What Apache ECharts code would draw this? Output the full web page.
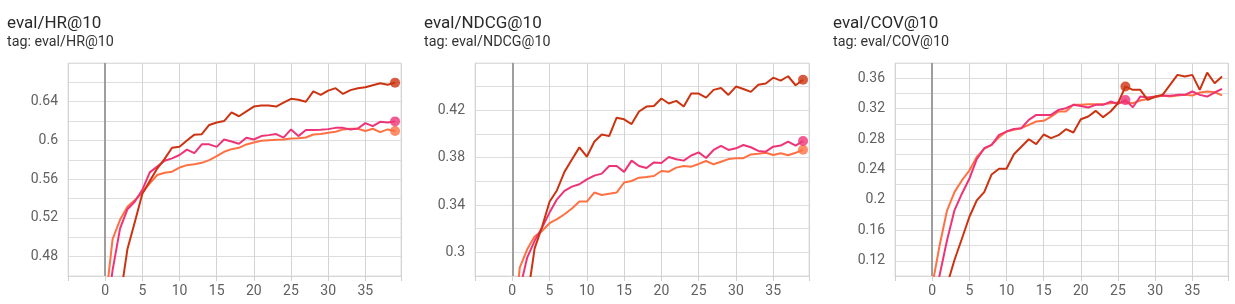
<!DOCTYPE html>
<html><head><meta charset="utf-8">
<script src="https://cdn.jsdelivr.net/npm/echarts@6/dist/echarts.min.js"></script>
<style>html,body{margin:0;padding:0;background:#fff}#c{width:1235px;height:304px}</style>
</head><body><div id="c"></div>
<script>
const steps = [0,1,2,3,4,5,6,7,8,9,10,11,12,13,14,15,16,17,18,19,20,21,22,23,24,25,26,27,28,29,30,31,32,33,34,35,36,37,38,39];

const hrRed = [0.30,0.38,0.436,0.488,0.516,0.545,0.558,0.571,0.581,0.5925,0.5935,0.600,0.606,0.6065,0.616,0.6185,0.620,0.629,0.625,0.630,0.635,0.636,0.636,0.635,0.639,0.643,0.642,0.640,0.6507,0.647,0.6515,0.654,0.648,0.652,0.654,0.655,0.657,0.659,0.6576,0.6597];
const hrPink = [0.41,0.466,0.509,0.529,0.537,0.549,0.567,0.573,0.579,0.5815,0.585,0.5905,0.587,0.596,0.596,0.5934,0.601,0.599,0.5966,0.6028,0.601,0.6045,0.6055,0.6066,0.603,0.6114,0.6045,0.6107,0.6107,0.611,0.6117,0.613,0.613,0.6114,0.6124,0.6179,0.6148,0.6193,0.6186,0.6197];
const hrOrange = [0.43,0.498,0.518,0.5316,0.5385,0.546,0.5557,0.5643,0.5667,0.5677,0.572,0.5745,0.5755,0.5769,0.5797,0.5838,0.5883,0.591,0.5924,0.5959,0.5979,0.5997,0.6003,0.6007,0.601,0.6021,0.6024,0.6031,0.6062,0.6066,0.6079,0.609,0.6114,0.6121,0.6121,0.6097,0.6121,0.6086,0.6114,0.6097];

const ndcgRed = [0.17,0.22,0.26,0.3034,0.3216,0.3427,0.3525,0.368,0.3784,0.3887,0.3808,0.3935,0.3996,0.3982,0.4138,0.4124,0.4084,0.419,0.4232,0.4237,0.43,0.4258,0.428,0.4232,0.4342,0.4342,0.4307,0.4373,0.4388,0.433,0.4401,0.438,0.4356,0.4416,0.4426,0.4476,0.4451,0.4488,0.4412,0.4458];
const ndcgPink = [0.23,0.2685,0.2956,0.3097,0.3209,0.3336,0.3448,0.3519,0.3555,0.3575,0.3617,0.3648,0.3665,0.373,0.373,0.368,0.3775,0.373,0.3713,0.376,0.3755,0.3805,0.3786,0.3775,0.3818,0.3845,0.3797,0.3865,0.3899,0.3865,0.3879,0.3907,0.3888,0.3857,0.3851,0.3893,0.3902,0.3936,0.3902,0.3941];
const ndcgOrange = [0.22,0.287,0.3026,0.3133,0.3181,0.3246,0.328,0.3322,0.337,0.3429,0.3429,0.3505,0.3485,0.3496,0.3505,0.359,0.3603,0.3631,0.3637,0.3645,0.3687,0.3682,0.3716,0.373,0.3724,0.3747,0.3772,0.3744,0.3766,0.3788,0.3796,0.3796,0.3827,0.3833,0.3842,0.3823,0.3838,0.382,0.3841,0.3867];

const covRed = [0.02,0.05,0.088,0.121,0.149,0.1776,0.1994,0.2103,0.2335,0.241,0.241,0.260,0.270,0.2798,0.2733,0.286,0.2812,0.2851,0.293,0.2886,0.3061,0.3096,0.3171,0.3088,0.3162,0.3271,0.349,0.3447,0.3447,0.3315,0.3359,0.3381,0.3512,0.3644,0.3622,0.3644,0.3447,0.3674,0.3534,0.3622];
const covPink = [0.05,0.101,0.147,0.1863,0.2082,0.2278,0.2535,0.268,0.2724,0.2855,0.2899,0.2934,0.2943,0.3052,0.3118,0.3118,0.3118,0.3184,0.3206,0.325,0.3236,0.3215,0.325,0.325,0.3293,0.3263,0.3312,0.3219,0.3359,0.3346,0.3359,0.3372,0.3368,0.3381,0.3381,0.3425,0.3381,0.3359,0.3412,0.346];
const covOrange = [0.087,0.14,0.186,0.2103,0.2256,0.2387,0.2566,0.2671,0.2724,0.2825,0.2899,0.2921,0.2943,0.2987,0.3031,0.304,0.3096,0.3162,0.3162,0.325,0.325,0.3258,0.3258,0.3258,0.3271,0.328,0.328,0.3271,0.3307,0.3328,0.335,0.3372,0.3359,0.3372,0.3381,0.3372,0.3412,0.3425,0.3416,0.3375];

const hrTicks = ['0.48','0.52','0.56','0.6','0.64'];
const ndcgTicks = ['0.3','0.34','0.38','0.42'];
const covTicks = ['0.12','0.16','0.2','0.24','0.28','0.32','0.36'];
const xTicks = ['0','5','10','15','20','25','30','35'];

const colors = {orange:'#ff7043', pink:'#ee3377', red:'#cc3311'};
const FONT = 'Roboto';

const panels = [
  {title:'eval/HR@10', tx:7, left:68, right:401, ymin:0.46, ymax:0.68, ticks:hrTicks, data:[hrOrange,hrPink,hrRed], dots:[39,39,39]},
  {title:'eval/NDCG@10', tx:424, left:475, right:809, ymin:0.28, ymax:0.46, ticks:ndcgTicks, data:[ndcgOrange,ndcgPink,ndcgRed], dots:[39,39,39]},
  {title:'eval/COV@10', tx:833, left:895, right:1228, ymin:0.10, ymax:0.38, ticks:covTicks, data:[covOrange,covPink,covRed], dots:[null,26,26]}
];

const option = {animation:false, backgroundColor:'#fff', title:[], grid:[], xAxis:[], yAxis:[], series:[]};
const cols = [colors.orange, colors.pink, colors.red];

panels.forEach((p, k) => {
  option.title.push({text:p.title, subtext:'tag: '+p.title, left:p.tx, top:15, padding:0, itemGap:3,
    textStyle:{fontFamily:FONT, fontSize:17, fontWeight:'normal', color:'#2a2a2a'},
    subtextStyle:{fontFamily:FONT, fontSize:14.3, color:'#333333'}});
  option.grid.push({left:p.left, top:63, width:p.right-p.left, height:213, show:true, borderColor:'#e0e0e0', borderWidth:1, containLabel:false});
  option.xAxis.push({type:'value', gridIndex:k, min:-5, max:39.8, interval:5,
    axisLine:{show:true, onZero:false, lineStyle:{color:'#d6d6d6', width:1}},
    axisTick:{show:true, length:5, lineStyle:{color:'#cfcfcf'}},
    splitLine:{show:true, lineStyle:{color:'#d4d4d4', width:1}},
    axisLabel:{fontFamily:FONT, fontSize:14, color:'#616161', margin:8,
      formatter:(v)=> xTicks.includes(String(Math.round(v*10)/10)) ? String(Math.round(v)) : ''}});
  option.yAxis.push({type:'value', gridIndex:k, min:p.ymin, max:p.ymax, interval:0.02,
    axisLine:{show:true, lineStyle:{color:'#d6d6d6'}},
    axisTick:{show:true, length:5, lineStyle:{color:'#dcdcdc'}},
    splitLine:{show:true, lineStyle:{color:'#dedede', width:1}},
    axisLabel:{fontFamily:FONT, fontSize:14, color:'#616161', margin:10,
      formatter:(v)=>{const s=String(parseFloat(v.toFixed(2))); return p.ticks.includes(s)?s:'';}}});
  p.data.forEach((arr, j) => {
    const s = {type:'line', xAxisIndex:k, yAxisIndex:k, data:steps.map((x,i)=>[x, arr[i]]),
      showSymbol:false, symbol:'none', lineStyle:{color:cols[j], width:2}, itemStyle:{color:cols[j]}, clip:true, silent:true, z:3+j};
    if (j === 0) {
      s.markLine = {silent:true, symbol:'none', label:{show:false}, lineStyle:{color:'#9e9e9e', width:2, type:'solid'}, data:[{xAxis:0}], z:2};
    }
    option.series.push(s);
  });
  p.data.forEach((arr, j) => {
    const d = p.dots[j];
    if (d === null) return;
    option.series.push({type:'scatter', xAxisIndex:k, yAxisIndex:k, data:[[steps[d], arr[d]]], symbol:'circle', symbolSize:10,
      itemStyle:{color:cols[j]}, silent:true, z:10+j});
  });
});

const chart = echarts.init(document.getElementById('c'), null, {renderer:'canvas'});
chart.setOption(option);
</script>
</body></html>
